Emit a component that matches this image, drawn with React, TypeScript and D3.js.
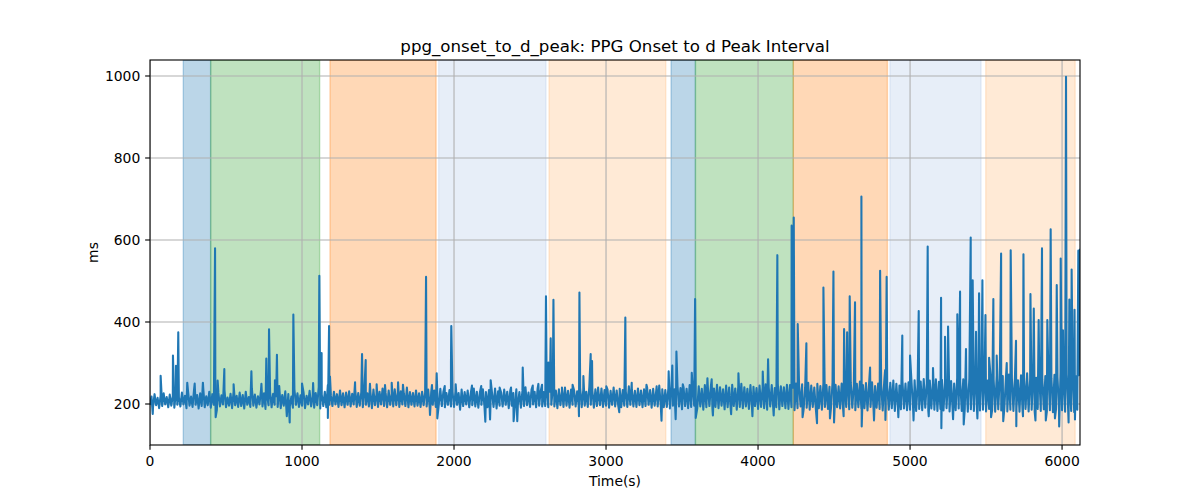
import React from "react";
import * as d3 from "d3";

const TITLE = "ppg_onset_to_d_peak: PPG Onset to d Peak Interval";
const X_LABEL = "Time(s)";
const Y_LABEL = "ms";
const X_TICKS = [0, 1000, 2000, 3000, 4000, 5000, 6000];
const Y_TICKS = [200, 400, 600, 800, 1000];
const X_DOMAIN = [0, 6118];
const Y_DOMAIN = [100, 1039];

// shaded phases
const SPAN_START = [219, 399, 1184, 1899, 2625, 3428, 3588, 4232, 4868, 5498];
const SPAN_END = [399, 1116, 1882, 2605, 3393, 3588, 4232, 4851, 5467, 6086];
const SPAN_COLOR = ["#1f77b4", "#2ca02c", "#ff7f0e", "#aec7e8", "#ffbb78", "#1f77b4", "#2ca02c", "#ff7f0e", "#aec7e8", "#ffbb78"];

// baseline samples, one every 10 s starting at t = 0
const BASE_STEP = 10;
const BASE = [
  200,218,193,224,197,215,190,221,195,226,199,217,192,223,196,219,191,225,198,216,
  194,228,199,220,190,232,196,218,193,236,198,222,189,226,195,240,192,219,197,230,
  191,224,198,218,186,227,194,221,199,234,192,216,196,225,190,231,197,220,193,228,
  195,222,189,230,198,217,193,238,196,223,191,219,199,233,194,226,188,221,197,229,
  192,225,198,219,193,244,190,222,196,231,170,224,195,218,191,236,198,226,193,221,
  196,229,190,220,199,232,194,218,191,227,197,241,189,223,195,230,192,246,198,221,
  195,230,199,224,193,233,197,226,192,228,198,231,194,225,199,236,193,227,196,229,
  192,232,198,226,194,229,190,235,197,224,193,230,199,238,195,227,192,233,198,225,
  194,236,197,228,193,231,199,225,195,240,192,229,198,227,194,233,196,226,193,230,
  197,228,194,235,191,229,198,233,193,226,199,237,195,230,192,227,198,234,194,229,
  193,231,198,227,186,235,195,229,199,233,192,226,197,238,194,230,191,228,198,236,
  195,229,192,234,197,227,193,238,189,231,196,228,194,235,198,230,190,233,196,227,
  193,236,198,229,191,232,195,241,197,228,193,235,199,230,192,238,196,231,194,229,
  195,234,192,230,198,238,194,233,190,236,197,231,193,240,196,232,191,235,198,233,
  194,231,197,239,192,234,196,230,193,242,198,233,191,236,195,231,197,238,193,234,
  196,235,191,232,198,240,194,233,197,237,192,234,196,231,193,243,198,235,194,232,
  193,238,197,233,192,236,195,241,198,234,191,237,196,232,194,245,197,236,192,234,
  193,238,189,242,196,236,191,245,194,239,187,241,195,237,190,246,193,240,196,238,
  189,243,194,237,186,246,192,240,195,244,188,238,193,247,190,241,196,236,187,245,
  192,240,189,247,195,238,186,243,193,249,190,241,194,237,188,246,192,242,195,239,
  188,245,193,240,190,248,186,242,194,246,189,239,192,250,187,243,195,241,190,247,
  188,246,192,240,185,250,190,244,194,248,187,241,191,252,186,245,193,240,189,249,
  190,244,186,251,193,246,188,242,191,253,185,247,192,243,189,250,186,245,193,248,
  187,252,191,245,185,249,192,255,188,246,190,251,184,247,193,253,187,244,191,250,
  188,248,184,254,191,246,186,252,190,257,183,249,192,245,187,256,189,250,185,253,
  186,251,190,258,183,249,188,255,185,261,191,250,184,257,189,252,186,260,183,254,
  188,259,184,253,190,262,182,256,187,250,185,264,189,255,183,260,188,253,181,263,
  187,258,183,265,189,254,184,268,186,260,182,257,188,266,185,259,181,270,187,262,
  184,268,188,259,182,272,186,262,183,266,189,258,181,270,185,263,188,275,182,261,
  186,270,181,264,188,274,183,260,187,268,182,276,185,263,180,271,187,266,183,278,
  185,265,181,272,187,262,183,274,180,268,186,270,
];

// individual excursions: time (s)
const SPIKE_T = [
  18,70,151,171,186,245,294,348,428,432,445,489,550,667,733,765,783,822,835,919,943,1000,1073,1114,1129,1170,1178,1184,
  1349,1395,1419,1447,1491,1546,1590,1632,1664,1816,1842,1855,1886,1890,1939,1980,1982,2011,2118,2179,2206,2237,2241,
  2300,2375,2392,2416,2452,2518,2555,2579,2605,2621,2636,2654,2710,2780,2822,2825,2851,2899,2908,2948,3002,3087,3123,
  3127,3169,3266,3333,3365,3412,3436,3458,3463,3505,3564,3586,3590,3667,3695,3703,3823,3871,3963,4031,4066,4103,4127,
  4221,4235,4261,4293,4318,4388,4430,4473,4496,4500,4563,4566,4586,4603,4638,4680,4682,4737,4763,4803,4836,4838,4846,
  4923,4949,5000,5023,5057,5116,5123,5151,5204,5206,5230,5250,5283,5311,5329,5353,5368,5399,5412,5434,5443,5454,5476,
  5496,5520,5533,5548,5570,5599,5613,5636,5662,5697,5699,5743,5746,5792,5814,5825,5846,5868,5893,5903,5925,5953,5965,
  5981,5991,6006,6026,6043,6048,6063,6082,6085,6107,6118,
];
// and their values (ms)
const SPIKE_V = [
  176,269,318,293,375,252,250,252,580,168,257,285,248,280,249,311,382,258,320,155,418,250,251,513,324,166,390,267,
  253,322,307,249,248,246,252,253,247,510,173,246,275,165,244,300,390,248,245,244,157,162,258,
  240,240,158,158,289,245,249,247,463,301,360,454,240,247,170,472,268,322,305,240,243,180,290,
  411,252,247,243,159,280,294,163,328,248,276,456,166,263,260,172,175,275,170,279,309,172,563,
  635,655,395,168,348,153,484,165,523,155,170,383,375,463,448,706,145,289,160,525,283,161,510,
  168,367,318,160,427,584,170,288,459,141,364,389,163,419,474,150,334,606,502,376,165,470,502,
  417,313,168,456,318,567,158,300,575,354,146,170,565,468,433,160,405,580,160,405,626,165,490,
  145,555,380,998,155,455,528,430,162,574,576,
];

const W = 1200;
const H = 500;
const M = { left: 150, right: 1080, top: 60, bottom: 445 };
const FONT = "'DejaVu Sans', sans-serif";

export default function App() {
  const x = d3.scaleLinear().domain(X_DOMAIN).range([M.left, M.right]);
  const y = d3.scaleLinear().domain(Y_DOMAIN).range([M.bottom, M.top]);

  const pts: [number, number][] = BASE.map((v, i) => [i * BASE_STEP, v] as [number, number]);
  SPIKE_T.forEach((t, i) => pts.push([t, SPIKE_V[i]]));
  pts.sort((a, b) => a[0] - b[0]);

  const line = d3
    .line<[number, number]>()
    .x((d) => x(d[0]))
    .y((d) => y(d[1]));

  const tickLen = 4.86;
  const pad = 4.86;

  return (
    <svg
      width={W}
      height={H}
      style={{ position: "fixed", left: 0, top: 0, background: "#fff" }}
      fontFamily={FONT}
    >
      <rect x={0} y={0} width={W} height={H} fill="#fff" />
      <defs>
        <clipPath id="plot">
          <rect x={M.left} y={M.top} width={M.right - M.left} height={M.bottom - M.top} />
        </clipPath>
      </defs>
      <g clipPath="url(#plot)">
        {SPAN_START.map((s, i) => (
          <rect
            key={i}
            x={x(s)}
            y={M.top}
            width={x(SPAN_END[i]) - x(s)}
            height={M.bottom - M.top}
            fill={SPAN_COLOR[i]}
            fillOpacity={0.3}
            stroke={SPAN_COLOR[i]}
            strokeOpacity={0.3}
            strokeWidth={1.39}
          />
        ))}
        {X_TICKS.map((t) => (
          <line key={"gx" + t} x1={x(t)} x2={x(t)} y1={M.top} y2={M.bottom} stroke="#b0b0b0" strokeWidth={1.11} />
        ))}
        {Y_TICKS.map((t) => (
          <line key={"gy" + t} x1={M.left} x2={M.right} y1={y(t)} y2={y(t)} stroke="#b0b0b0" strokeWidth={1.11} />
        ))}
        <path d={line(pts) || ""} fill="none" stroke="#1f77b4" strokeWidth={2.08} strokeLinejoin="round" strokeLinecap="square" />
      </g>
      <rect
        x={M.left}
        y={M.top}
        width={M.right - M.left}
        height={M.bottom - M.top}
        fill="none"
        stroke="#000"
        strokeWidth={1.11}
      />
      {X_TICKS.map((t) => (
        <g key={"xt" + t}>
          <line x1={x(t)} x2={x(t)} y1={M.bottom} y2={M.bottom + tickLen} stroke="#000" strokeWidth={1.11} />
          <text x={x(t)} y={M.bottom + tickLen + pad + 11} fontSize={13.9} textAnchor="middle" fill="#000">
            {t}
          </text>
        </g>
      ))}
      {Y_TICKS.map((t) => (
        <g key={"yt" + t}>
          <line x1={M.left - tickLen} x2={M.left} y1={y(t)} y2={y(t)} stroke="#000" strokeWidth={1.11} />
          <text x={M.left - tickLen - pad} y={y(t) + 5} fontSize={13.9} textAnchor="end" fill="#000">
            {t}
          </text>
        </g>
      ))}
      <text x={(M.left + M.right) / 2} y={486} fontSize={13.9} textAnchor="middle" fill="#000">
        {X_LABEL}
      </text>
      <text
        transform={`translate(98, ${(M.top + M.bottom) / 2}) rotate(-90)`}
        fontSize={13.9}
        textAnchor="middle"
        fill="#000"
      >
        {Y_LABEL}
      </text>
      <text x={(M.left + M.right) / 2} y={52} fontSize={16.67} textAnchor="middle" fill="#000">
        {TITLE}
      </text>
    </svg>
  );
}
